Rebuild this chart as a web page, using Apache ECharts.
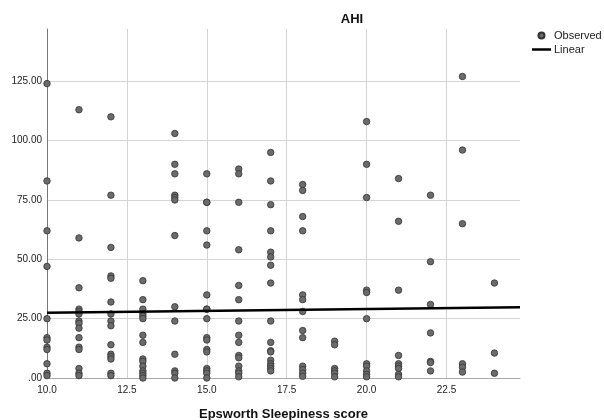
<!DOCTYPE html>
<html>
<head>
<meta charset="utf-8">
<script src="https://cdn.jsdelivr.net/npm/echarts@6/dist/echarts.min.js"></script>
<style>
  html, body { margin: 0; padding: 0; background: #fff; }
  #main { width: 604px; height: 420px; }
</style>
</head>
<body>
<div id="main"></div>
<script>
// Epsworth score columns and AHI values
var scores = [10, 11, 12, 13, 14, 15, 16, 17, 18, 19, 20, 21, 22, 23, 24];
var ahiByScore = [
  [124, 83, 62, 47, 25, 17, 16, 13, 12, 6, 2, 1],
  [113, 59, 38, 29, 28, 27, 24, 23, 21, 17, 13, 12, 4, 2, 1],
  [110, 77, 55, 43, 42, 32, 27, 24, 22, 14, 10, 9, 8, 2, 1],
  [41, 33, 29, 27, 26, 25, 18, 15, 8, 7, 5, 3, 2, 1, 0],
  [103, 90, 86, 77, 76, 75, 60, 30, 24, 10, 3, 2, 0],
  [86, 74, 74, 62, 56, 35, 29, 29, 25, 17, 16, 12, 11, 4, 3, 2, 0],
  [88, 86, 74, 54, 39, 33, 24, 18, 15, 9.5, 8.5, 5, 3, 2, 0.5],
  [95, 83, 73, 62, 53, 51, 47.5, 40, 24, 15, 11.5, 11, 7.5, 6, 5, 4, 3],
  [81.5, 79, 68, 62, 35, 33, 28, 20, 17, 5, 3.5, 2, 0.7],
  [15.5, 14, 4, 3, 2, 0.5],
  [108, 90, 76, 37, 36, 25, 6, 5, 3, 1.5, 0.5],
  [84, 66, 37, 9.5, 6, 5, 4, 1.5, 0.5],
  [77, 49, 31, 19, 7, 6.5, 3],
  [127, 96, 65, 6, 4.5, 2.5],
  [40, 10.5, 2]
];
// fitted line end points
var linearX = [10, 24.8];
var linearY = [27.5, 29.8];

var observed = [];
scores.forEach(function (s, i) {
  ahiByScore[i].forEach(function (v) { observed.push([s, v]); });
});
var linear = linearX.map(function (x, i) { return [x, linearY[i]]; });

var font = 'Liberation Sans, Arial, sans-serif';
var myChart = echarts.init(document.getElementById('main'));
myChart.setOption({
  animation: false,
  title: {
    text: 'AHI',
    left: 347,
    top: 8,
    textAlign: 'center',
    textStyle: { fontFamily: font, fontSize: 13, fontWeight: 'bold', color: '#111' }
  },
  legend: {
    orient: 'vertical',
    left: 532,
    top: 30,
    padding: 0,
    itemWidth: 19,
    itemHeight: 6,
    itemGap: 3,
    textStyle: { fontFamily: font, fontSize: 11, color: '#222', padding: [0, 0, 0, -2] },
    data: [
      { name: 'Observed', icon: 'circle' },
      { name: 'Linear', icon: 'path://M0,0 L19,0 L19,2.5 L0,2.5 Z' }
    ]
  },
  grid: { left: 47, right: 84, top: 29, bottom: 42, outerBoundsMode: 'none' },
  xAxis: {
    type: 'value',
    min: 10,
    max: 24.8,
    interval: 2.5,
    name: 'Epsworth Sleepiness score',
    nameLocation: 'middle',
    nameGap: 30,
    nameTextStyle: { fontFamily: font, fontSize: 13, fontWeight: 'bold', color: '#111' },
    axisLine: { show: true, lineStyle: { color: '#aaa', width: 1 } },
    axisTick: { show: false },
    axisLabel: {
      fontFamily: font, fontSize: 10, color: '#222', margin: 7,
      showMaxLabel: false,
      formatter: function (v) { return v.toFixed(1); }
    },
    splitLine: { show: true, showMinLine: false, showMaxLine: false, lineStyle: { color: '#d4d4d4', width: 1 } }
  },
  yAxis: {
    type: 'value',
    min: 0,
    max: 147,
    interval: 25,
    axisLine: { show: true, lineStyle: { color: '#777', width: 1 } },
    axisTick: { show: false },
    axisLabel: {
      fontFamily: font, fontSize: 10, color: '#222', margin: 5,
      showMaxLabel: false,
      formatter: function (v) { return v === 0 ? '.00' : v.toFixed(2); }
    },
    splitLine: { show: true, showMinLine: false, showMaxLine: false, lineStyle: { color: '#d4d4d4', width: 1 } }
  },
  series: [{
    name: 'Observed',
    type: 'scatter',
    data: observed,
    symbolSize: 6.5,
    itemStyle: { color: '#6b6b6b', borderColor: '#333', borderWidth: 0.8, opacity: 1 },
    z: 3
  }, {
    name: 'Linear',
    type: 'line',
    data: linear,
    symbol: 'none',
    lineStyle: { color: '#000', width: 2.5 },
    itemStyle: { color: '#000' },
    z: 4
  }]
});
</script>
</body>
</html>
